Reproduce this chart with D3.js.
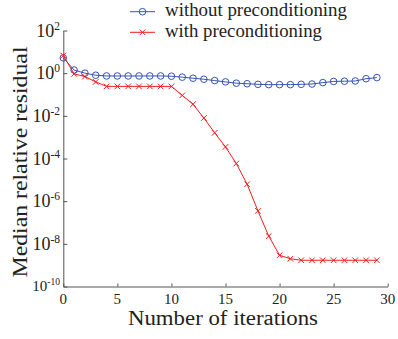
<!DOCTYPE html>
<html>
<head>
<meta charset="utf-8">
<script src="https://cdn.jsdelivr.net/npm/d3@7/dist/d3.min.js"></script>
<style>
  body { margin: 0; background: #fff; }
  svg { display: block; }
  text { font-family: "Liberation Serif", "Times New Roman", serif; fill: #222; }
</style>
</head>
<body>
<svg id="chart" width="398" height="339"></svg>
<script>
// iterations 0..29
const iterations = d3.range(0, 30);

// median relative residual
const withoutPrecond = [
  5.2, 1.4, 1.0, 0.8, 0.74, 0.74, 0.74, 0.74, 0.74, 0.74,
  0.72, 0.65, 0.58, 0.52, 0.45, 0.39, 0.34, 0.32, 0.3, 0.29,
  0.29, 0.29, 0.3, 0.31, 0.36, 0.41, 0.42, 0.43, 0.55, 0.62
];
const withPrecond = [
  6.7, 0.93, 0.69, 0.39, 0.24, 0.24, 0.24, 0.24, 0.24, 0.24,
  0.24, 0.091, 0.035, 0.0079, 1.6e-3, 3.5e-4, 5.8e-5, 6.2e-6, 3.5e-7, 2.3e-8,
  2.9e-9, 2.0e-9, 1.7e-9, 1.7e-9, 1.7e-9, 1.7e-9, 1.7e-9, 1.7e-9, 1.7e-9, 1.7e-9
];

const xTicks = [0, 5, 10, 15, 20, 25, 30];
const yExponents = [2, 0, -2, -4, -6, -8, -10];
const seriesNames = ["without preconditioning", "with preconditioning"];

const svg = d3.select("#chart");
const plotLeft = 63.3, plotRight = 387.7, plotTop = 30.5, plotBottom = 286.5;

const x = d3.scaleLinear().domain([0, 30]).range([plotLeft, plotRight]);
const y = d3.scaleLog().domain([1e-10, 1e2]).range([plotBottom, plotTop]);

const axisColor = "#555";

// bottom axis, ticks pointing inward
const gx = svg.append("g")
  .attr("transform", "translate(0," + plotBottom + ")")
  .call(d3.axisBottom(x).tickValues(xTicks).tickSizeInner(-3).tickSizeOuter(0).tickFormat(""));
gx.select(".domain").attr("stroke", axisColor);
gx.selectAll(".tick line").attr("stroke", axisColor);

// left axis
const gy = svg.append("g")
  .attr("transform", "translate(" + plotLeft + ",0)")
  .call(d3.axisLeft(y).tickValues(yExponents.map(e => Math.pow(10, e))).tickSizeInner(-4).tickSizeOuter(0).tickFormat(""));
gy.select(".domain").attr("stroke", axisColor);
gy.selectAll(".tick line").attr("stroke", axisColor);

// x tick labels
svg.append("g").selectAll("text")
  .data(xTicks)
  .enter()
  .append("text")
  .attr("x", d => x(d))
  .attr("y", 304)
  .attr("text-anchor", "middle")
  .attr("font-size", 15)
  .text(d => d);

// y tick labels as 10^n
svg.append("g").selectAll("text")
  .data(yExponents)
  .enter()
  .append("text")
  .attr("x", 60)
  .attr("y", d => y(Math.pow(10, d)) + (d === -10 ? 4 : 6))
  .attr("text-anchor", "end")
  .attr("font-size", d => d === -10 ? 15 : 18)
  .each(function (d) {
    const t = d3.select(this);
    const small = d === -10;
    t.append("tspan").text("10");
    t.append("tspan")
      .attr("font-size", small ? 9.5 : 11.5)
      .attr("dy", small ? -6 : -7)
      .text(d < 0 ? "-" + Math.abs(d) : d);
  });

// axis titles
svg.append("text")
  .attr("x", 223)
  .attr("y", 325)
  .attr("text-anchor", "middle")
  .attr("font-size", 20)
  .attr("textLength", 190)
  .attr("lengthAdjust", "spacingAndGlyphs")
  .text("Number of iterations");

svg.append("text")
  .attr("transform", "translate(27,162) rotate(-90)")
  .attr("text-anchor", "middle")
  .attr("font-size", 20)
  .attr("textLength", 231)
  .attr("lengthAdjust", "spacingAndGlyphs")
  .text("Median relative residual");

const blue = "#3553b3";
const red = "#f01c1c";

const line = d3.line()
  .x((d, i) => x(iterations[i]))
  .y(d => y(d));

// without preconditioning
svg.append("path")
  .datum(withoutPrecond)
  .attr("fill", "none")
  .attr("stroke", blue)
  .attr("stroke-width", 1)
  .attr("d", line);

svg.append("g").selectAll("circle")
  .data(withoutPrecond)
  .enter()
  .append("circle")
  .attr("cx", (d, i) => x(iterations[i]))
  .attr("cy", d => y(d))
  .attr("r", 3.3)
  .attr("fill", "none")
  .attr("stroke", blue)
  .attr("stroke-width", 1);

// with preconditioning
svg.append("path")
  .datum(withPrecond)
  .attr("fill", "none")
  .attr("stroke", red)
  .attr("stroke-width", 1)
  .attr("d", line);

const cross = d3.symbol().type(d3.symbolX).size(22);
svg.append("g").selectAll("path")
  .data(withPrecond)
  .enter()
  .append("path")
  .attr("transform", (d, i) => "translate(" + x(iterations[i]) + "," + y(d) + ")")
  .attr("d", cross)
  .attr("fill", "none")
  .attr("stroke", red)
  .attr("stroke-width", 1);

// legend
const legend = svg.append("g");
const legendRows = [
  { name: seriesNames[0], color: blue, ly: 11.7, ty: 16, w: 182 },
  { name: seriesNames[1], color: red, ly: 32.3, ty: 37, w: 157 }
];
legendRows.forEach((r, i) => {
  legend.append("line")
    .attr("x1", 130).attr("x2", 155)
    .attr("y1", r.ly).attr("y2", r.ly)
    .attr("stroke", r.color).attr("stroke-width", 1);
  if (i === 0) {
    legend.append("circle")
      .attr("cx", 142.5).attr("cy", r.ly).attr("r", 3.3)
      .attr("fill", "none").attr("stroke", r.color);
  } else {
    legend.append("path")
      .attr("transform", "translate(142.5," + r.ly + ")")
      .attr("d", cross)
      .attr("fill", "none").attr("stroke", r.color);
  }
  legend.append("text")
    .attr("x", 165)
    .attr("y", r.ty)
    .attr("font-size", 18)
    .attr("textLength", r.w)
    .attr("lengthAdjust", "spacingAndGlyphs")
    .text(r.name);
});
</script>
</body>
</html>
